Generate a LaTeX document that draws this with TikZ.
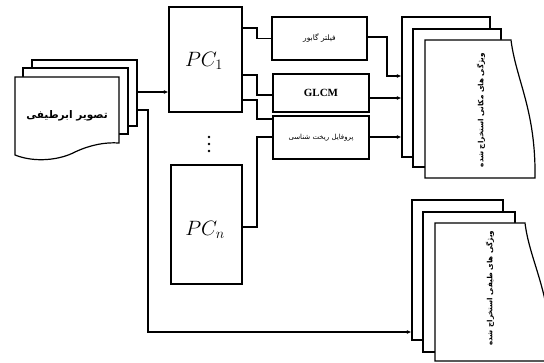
\documentclass[tikz,border=0pt]{standalone}
\usepackage{fontspec}
\usetikzlibrary{arrows.meta}
\TeXXeTstate=1
\newfontfamily\arabicfont[Script=Arabic]{DejaVu Sans}
\newfontfamily\timesfont{Liberation Serif}
\begin{document}
\begin{tikzpicture}[x=1pt,y=-1pt,line width=1.2pt,
  box/.style={draw,fill=white,inner sep=0pt},
  page/.style={draw,fill=white},
  arr/.style={-{Latex[length=4.5pt,width=4pt]}}]
\useasboundingbox (0,0) rectangle (544,363);

% left multi-document
\node[box,minimum width=105pt,minimum height=66pt] (lb) at (84.5,93) {};
\node[box,minimum width=105pt,minimum height=66pt] (lm) at (75.5,101) {};
\draw[page] (15,77) -- (119,77) -- (119,143) .. controls (105,142) and (90,145) .. (75,152)
  .. controls (60,160) and (35,163) .. (15,155) -- cycle;
\node[font=\arabicfont\bfseries\fontsize{10.5}{12}\selectfont] (ltxt) at (67,116) {\beginR تصویر ابرطیفی\endR};

% PC boxes
\node[box,minimum width=73pt,minimum height=105pt] (pc1) at (205.5,59.5) {};
\node (pc1t) at (204,61) {\fontsize{20}{23}\selectfont $PC_1$};
\node[box,minimum width=71pt,minimum height=119pt] (pcn) at (206.5,224.5) {};
\node (pcnt) at (205,230) {\fontsize{20}{23}\selectfont $PC_n$};
\foreach \yy in {137,144,151} \fill (209,\yy) circle (1.4pt);

% filter boxes
\node[box,minimum width=95pt,minimum height=43pt,font=\arabicfont\fontsize{7.5}{8}\selectfont] (gabor) at (319.5,38.5) {\beginR فیلتر گابور\endR};
\node[box,minimum width=96pt,minimum height=38pt,font=\timesfont\bfseries\fontsize{11}{12}\selectfont] (glcm) at (321,93) {GLCM};
\node[box,minimum width=96pt,minimum height=43pt,font=\arabicfont\fontsize{7}{8}\selectfont] (prof) at (321,137.5) {\beginR پروفایل ریخت شناسی\endR};

% top-right multi-document
\node[box,minimum width=88pt,minimum height=140pt] (tb) at (446,87) {};
\node[box,minimum width=88pt,minimum height=138pt] (tm) at (457,98) {};
\draw[page] (425,40) -- (511,40) .. controls (516,80) and (536,110) .. (535,178) -- (425,178) -- cycle;
\node[rotate=90,font=\arabicfont\bfseries\fontsize{7.2}{8}\selectfont] (ttxt) at (481,110) {\beginR ویژگی های مکانی استخراج شده\endR};

% bottom-right multi-document
\node[box,minimum width=91pt,minimum height=140pt] (bb) at (457.5,270) {};
\node[box,minimum width=92pt,minimum height=140pt] (bm) at (469,282) {};
\draw[page] (435,223) -- (525,223) .. controls (530,263) and (552,293) .. (551,361) -- (435,361) -- cycle;
\node[rotate=90,font=\arabicfont\bfseries\fontsize{7.2}{8}\selectfont] (btxt) at (490,288) {\beginR ویژگی های طیفی استخراج شده\endR};

% connectors
\draw[arr] (lb.east |- 0,92) -- (pc1.west |- 0,92);
\draw[arr] (lb.east |- 0,110) -- (148,110) |- (bb.west |- 0,332);
\draw (pc1.east |- 0,28) -- (257,28) |- (gabor.west);
\draw (pc1.east |- 0,75) -- (257,75) |- (glcm.west |- 0,95);
\draw (pc1.east |- 0,100) -- (257,100) |- (prof.west |- 0,119);
\draw (pcn.east |- 0,227) -- (257,227) |- (prof.west |- 0,137);
\draw[arr] (gabor.east |- 0,37) -- (387,37) |- (tb.west |- 0,76);
\draw[arr] (glcm.east |- 0,98) -- (tb.west |- 0,98);
\draw[arr] (prof.east |- 0,137) -- (tb.west |- 0,137);
\end{tikzpicture}
\end{document}
